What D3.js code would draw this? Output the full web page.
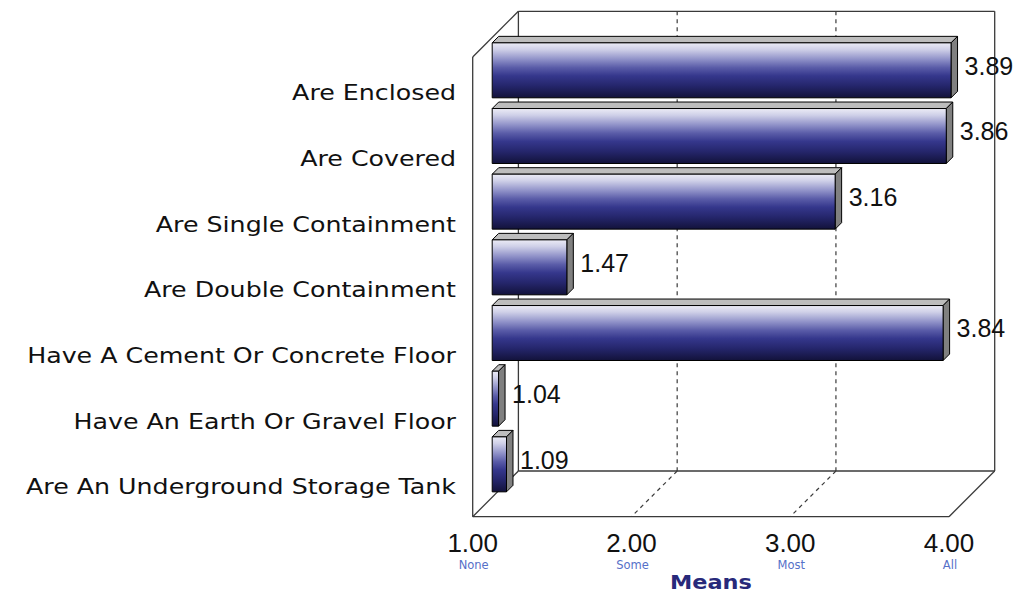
<!DOCTYPE html>
<html>
<head>
<meta charset="utf-8">
<script src="https://cdn.jsdelivr.net/npm/d3@7"></script>
<style>
  html, body { margin: 0; padding: 0; background: #fff; }
  svg { display: block; }
</style>
</head>
<body>
<svg id="chart" width="1015" height="594"></svg>
<script>
// Survey means: how many of the storage structures have each feature
const categories = [
  "Are Enclosed",
  "Are Covered",
  "Are Single Containment",
  "Are Double Containment",
  "Have A Cement Or Concrete Floor",
  "Have An Earth Or Gravel Floor",
  "Are An Underground Storage Tank"
];
const means = [3.89, 3.86, 3.16, 1.47, 3.84, 1.04, 1.09];
const tickValues = [1, 2, 3, 4];
const tickNames = ["None", "Some", "Most", "All"];
const axisTitle = "Means";

const svg = d3.select("#chart");

// front plane of the 3-D box and its depth vector
const front = { left: 472.7, right: 949, top: 57, bottom: 516.7 };
const depth = { dx: 45.7, dy: -45.7 };
const barOffset = 19.5;   // bar face sits this far into the box
const barDepth = 6.5;     // thickness of each bar slab

const x = d3.scaleLinear().domain([1, 4]).range([front.left, front.right]);
const y = d3.scaleBand().domain(categories)
  .range([front.top, front.bottom])
  .paddingInner(0.163).paddingOuter(0.0815);

const labelFont = "'DejaVu Sans', sans-serif";
const numFont = "'Liberation Sans', Arial, sans-serif";

// gradient for the bar faces
const defs = svg.append("defs");
const grad = defs.append("linearGradient").attr("id", "barFace")
  .attr("x1", 0).attr("y1", 0).attr("x2", 0).attr("y2", 1);
[[0, "#ececf6"], [0.12, "#cfd0e8"], [0.3, "#8f91c8"], [0.45, "#5a5ca8"],
 [0.6, "#35378c"], [0.78, "#25266c"], [1, "#12123a"]]
  .forEach(([o, c]) => grad.append("stop").attr("offset", o).attr("stop-color", c));

// ----- box frame -----
const frame = svg.append("g").attr("stroke", "#3a3a3a").attr("stroke-width", 1.3).attr("fill", "none");
const bx = v => x(v) + depth.dx;           // back-wall x
const backTop = front.top + depth.dy;
const backBottom = front.bottom + depth.dy;

const seg = (g, x1, y1, x2, y2) => g.append("line")
  .attr("x1", x1).attr("y1", y1).attr("x2", x2).attr("y2", y2);

seg(frame, bx(1), backTop, bx(4), backTop);               // back top
seg(frame, bx(1), backTop, bx(1), backBottom);            // back left
seg(frame, bx(4), backTop, bx(4), backBottom);            // back right
seg(frame, bx(1), backBottom, bx(4), backBottom);         // back floor
seg(frame, x(1), front.top, bx(1), backTop);              // top-left depth edge
seg(frame, x(1), front.top, x(1), front.bottom);          // left wall front edge
seg(frame, x(1), front.bottom, x(4), front.bottom);       // front floor
seg(frame, x(1), front.bottom, bx(1), backBottom);        // floor left depth edge
seg(frame, x(4), front.bottom, bx(4), backBottom);        // floor right depth edge

// dashed gridlines on back wall and floor
const grid = svg.append("g").attr("stroke", "#3a3a3a").attr("stroke-width", 1.2)
  .attr("stroke-dasharray", "4,4").attr("fill", "none");
tickValues.filter(v => v > 1 && v < 4).forEach(v => {
  seg(grid, bx(v), backTop, bx(v), backBottom);
  seg(grid, bx(v), backBottom, x(v), front.bottom);
});

// ----- bars -----
const data = categories.map((c, i) => ({ cat: c, value: means[i] }));
const bars = svg.append("g");
data.forEach(d => {
  const x0 = x(1) + barOffset;
  const x1 = x(d.value) + barOffset;
  const y0 = y(d.cat) - barOffset;
  const y1 = y0 + y.bandwidth();
  const g = bars.append("g").attr("stroke", "#000").attr("stroke-width", 1)
    .attr("stroke-linejoin", "round");
  g.append("polygon")
    .attr("points", [[x0, y0], [x1, y0], [x1 + barDepth, y0 - barDepth], [x0 + barDepth, y0 - barDepth]].join(" "))
    .attr("fill", "#bdbdbd");
  g.append("polygon")
    .attr("points", [[x1, y0], [x1 + barDepth, y0 - barDepth], [x1 + barDepth, y1 - barDepth], [x1, y1]].join(" "))
    .attr("fill", "#808080");
  g.append("rect")
    .attr("x", x0).attr("y", y0).attr("width", x1 - x0).attr("height", y1 - y0)
    .attr("fill", "url(#barFace)");
  // value label
  svg.append("text")
    .attr("x", x1 + barDepth + 7)
    .attr("y", (y0 + y1) / 2 + 4.4)
    .attr("font-family", numFont).attr("font-size", 25).attr("fill", "#111")
    .text(d.value.toFixed(2));
});

// ----- category labels -----
svg.append("g").selectAll("text").data(categories).join("text")
  .attr("transform", c => `translate(456,${y(c) + y.bandwidth() / 2 + 10.5}) scale(1.15,1)`)
  .attr("text-anchor", "end")
  .attr("font-family", labelFont).attr("font-size", 22).attr("fill", "#111")
  .text(c => c);

// ----- value axis labels -----
const axisG = svg.append("g");
axisG.selectAll("text.tick").data(tickValues).join("text")
  .attr("class", "tick")
  .attr("x", v => x(v)).attr("y", 551.5)
  .attr("text-anchor", "middle")
  .attr("font-family", numFont).attr("font-size", 26).attr("fill", "#111")
  .text(v => v.toFixed(2));
axisG.selectAll("text.name").data(tickValues).join("text")
  .attr("class", "name")
  .attr("x", v => x(v) + 1).attr("y", 569)
  .attr("text-anchor", "middle")
  .attr("font-family", labelFont).attr("font-size", 11.5).attr("fill", "#5670c8")
  .text((v, i) => tickNames[i]);

svg.append("text")
  .attr("transform", `translate(${(x(1) + x(4)) / 2},588.5) scale(1.12,1)`)
  .attr("text-anchor", "middle")
  .attr("font-family", labelFont).attr("font-weight", "bold").attr("font-size", 20)
  .attr("fill", "#28297a")
  .text(axisTitle);
</script>
</body>
</html>
